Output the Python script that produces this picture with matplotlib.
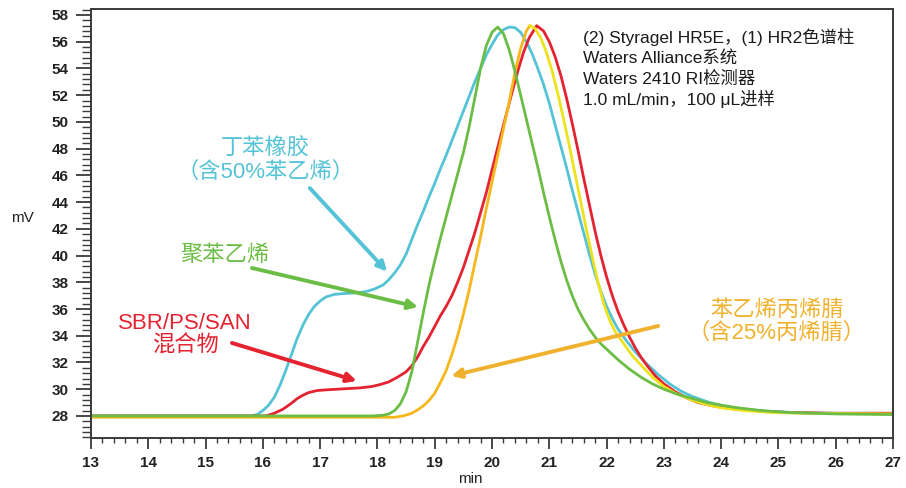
import matplotlib
matplotlib.use("Agg")

import matplotlib.pyplot as plt
from matplotlib.ticker import MultipleLocator

plt.rcParams["font.family"] = ["Liberation Sans", "Noto Sans CJK SC", "DejaVu Sans"]

# elution time (min) / detector signal (mV)
cyan_x = [13.0, 15.8, 15.9, 16.0, 16.1, 16.2, 16.3, 16.4, 16.5, 16.6, 16.7, 16.8,
          16.9, 17.0, 17.1, 17.25, 17.4, 17.6, 17.8, 17.95, 18.1, 18.2, 18.3, 18.4,
          18.5, 18.6, 18.7, 18.8, 18.9, 19.0, 19.1, 19.2, 19.3, 19.4, 19.5, 19.6,
          19.7, 19.8, 19.9, 20.0, 20.1, 20.2, 20.3, 20.4, 20.5, 20.6, 20.7, 20.8,
          20.9, 21.0, 21.1, 21.2, 21.3, 21.4, 21.5, 21.6, 21.7, 21.8, 21.9, 22.0,
          22.1, 22.2, 22.35, 22.5, 22.7, 22.9, 23.1, 23.3, 23.5, 23.8, 24.1, 24.4,
          24.8, 25.3, 26.0, 27.0]
cyan_y = [28.0, 28.0, 28.1, 28.4, 28.8, 29.4, 30.3, 31.4, 32.6, 33.8, 34.8, 35.6,
          36.2, 36.6, 36.9, 37.1, 37.15, 37.2, 37.3, 37.5, 37.8, 38.2, 38.7, 39.3,
          40.1, 41.2, 42.3, 43.3, 44.4, 45.4, 46.5, 47.5, 48.6, 49.7, 50.8, 51.9,
          53.0, 54.0, 55.0, 55.8, 56.5, 56.9, 57.1, 57.05, 56.7, 56.0, 55.1, 54.0,
          52.8, 51.4, 49.8, 48.2, 46.6, 44.9, 43.3, 41.7, 40.1, 38.6, 37.3, 36.2,
          35.3, 34.5, 33.6, 32.8, 31.9, 31.1, 30.4, 29.85, 29.45, 29.0, 28.7, 28.5,
          28.35, 28.25, 28.2, 28.2]

green_x = [13.0, 17.9, 18.1, 18.2, 18.3, 18.4, 18.5, 18.6, 18.7, 18.8, 18.9, 19.0,
           19.1, 19.2, 19.3, 19.4, 19.5, 19.6, 19.7, 19.8, 19.9, 20.0, 20.1, 20.2,
           20.3, 20.4, 20.5, 20.6, 20.7, 20.8, 20.9, 21.0, 21.1, 21.2, 21.3, 21.4,
           21.5, 21.6, 21.7, 21.8, 21.9, 22.0, 22.2, 22.4, 22.6, 22.8, 23.0, 23.25,
           23.5, 23.75, 24.0, 24.3, 24.7, 25.2, 26.0, 27.0]
green_y = [28.0, 28.0, 28.05, 28.15, 28.4, 28.9, 29.8, 31.3, 33.5, 35.7, 37.8, 39.6,
           41.3, 42.9, 44.5, 46.1, 47.7, 49.6, 51.8, 54.0, 55.7, 56.7, 57.1, 56.6,
           55.4, 53.8, 52.0, 50.2, 48.4, 46.6, 44.7, 42.9, 41.2, 39.6, 38.2, 37.0,
           36.0, 35.2, 34.5, 33.9, 33.4, 33.0, 32.2, 31.5, 30.9, 30.4, 30.0, 29.6,
           29.3, 29.0, 28.8, 28.6, 28.4, 28.25, 28.15, 28.1]

red_x = [13.0, 16.05, 16.2, 16.35, 16.5, 16.6, 16.7, 16.8, 16.95, 17.1, 17.3, 17.5,
         17.7, 17.9, 18.05, 18.2, 18.35, 18.5, 18.6, 18.7, 18.8, 18.9, 19.0, 19.1,
         19.2, 19.3, 19.4, 19.5, 19.7, 19.9, 20.1, 20.3, 20.45, 20.55, 20.65, 20.78,
         20.9, 21.0, 21.1, 21.2, 21.3, 21.4, 21.5, 21.6, 21.7, 21.8, 21.9, 22.0,
         22.1, 22.2, 22.3, 22.4, 22.5, 22.6, 22.7, 22.85, 23.0, 23.2, 23.4, 23.6,
         23.8, 24.0, 24.3, 24.7, 25.2, 26.0, 27.0]
red_y = [28.0, 28.0, 28.2, 28.5, 28.95, 29.3, 29.55, 29.75, 29.9, 29.95, 30.0, 30.05,
         30.1, 30.2, 30.35, 30.55, 30.9, 31.3, 31.75, 32.4, 33.2, 33.9, 34.7, 35.5,
         36.2, 37.0, 38.0, 39.1, 41.7, 44.7, 48.1, 51.4, 53.8, 55.2, 56.3, 57.2,
         56.8, 56.0, 54.9, 53.5, 51.8, 49.9, 47.9, 45.8, 43.8, 41.8, 40.0, 38.4,
         37.0, 35.8, 34.8, 33.9, 33.1, 32.4, 31.8, 31.0, 30.4, 29.8, 29.35, 29.0,
         28.8, 28.65, 28.5, 28.35, 28.25, 28.2, 28.2]

# SAN trace: rising side is drawn orange, falling side bright yellow
san_rise_x = [13.0, 18.3, 18.45, 18.6, 18.7, 18.8, 18.9, 19.0, 19.1, 19.2, 19.3,
              19.4, 19.5, 19.6, 19.7, 19.8, 19.9, 20.0, 20.1, 20.2, 20.3, 20.4,
              20.5, 20.6, 20.66]
san_rise_y = [27.9, 27.9, 28.0, 28.2, 28.45, 28.75, 29.15, 29.7, 30.5, 31.4, 32.6,
              34.0, 35.6, 37.4, 39.4, 41.4, 43.5, 45.5, 47.5, 49.5, 51.5, 53.7,
              55.5, 56.8, 57.2]
san_fall_x = [20.66, 20.75, 20.85, 20.95, 21.05, 21.15, 21.25, 21.35, 21.45, 21.55,
              21.65, 21.75, 21.85, 21.95, 22.05, 22.15, 22.3, 22.45, 22.6, 22.8,
              23.0, 23.2, 23.45, 23.7, 24.0, 24.4, 24.9, 25.5, 27.0]
san_fall_y = [57.2, 57.0, 56.3, 55.2, 53.8, 52.1, 50.2, 48.2, 46.1, 44.0,
              41.9, 39.9, 38.0, 36.4, 35.2, 34.3, 33.4, 32.5, 31.8, 30.9,
              30.2, 29.7, 29.25, 28.9, 28.6, 28.4, 28.25, 28.2, 28.15]

info_lines = ["(2) Styragel HR5E，(1) HR2色谱柱", "Waters Alliance系统",
              "Waters 2410 RI检测器", "1.0 mL/min，100 μL进样"]

CYAN = "#55c3d6"
GREEN = "#6cbd45"
RED = "#e52330"
ORANGE = "#f6b71c"
YELLOW = "#eee21c"

fig = plt.figure(figsize=(9.06, 4.88), dpi=100)
ax = fig.add_axes([0.1004, 0.1025, 0.8853, 0.8791])

lw = 2.0
ax.plot(cyan_x, cyan_y, color=CYAN, lw=lw)
ax.plot(red_x, red_y, color=RED, lw=lw)
ax.plot(san_rise_x, san_rise_y, color=ORANGE, lw=lw)
ax.plot(san_fall_x, san_fall_y, color=YELLOW, lw=lw)
ax.plot(green_x, green_y, color=GREEN, lw=lw)

ax.set_xlim(13, 27)
ax.set_ylim(26.35, 58.45)

ax.xaxis.set_major_locator(MultipleLocator(1))
ax.xaxis.set_minor_locator(MultipleLocator(0.2))
ax.yaxis.set_major_locator(MultipleLocator(2))
ax.yaxis.set_minor_locator(MultipleLocator(0.4))

for s in ax.spines.values():
    s.set_color("#3a3a3a")
    s.set_linewidth(1.4)

ax.tick_params(axis="both", which="both", direction="out", color="#3a3a3a")
ax.tick_params(axis="both", which="major", width=1.3, labelsize=11)
ax.tick_params(axis="both", which="minor", width=1.0)
ax.tick_params(axis="y", which="major", length=10.5, pad=5.5)
ax.tick_params(axis="y", which="minor", length=6.5)
ax.tick_params(axis="x", which="major", length=8, pad=5)
ax.tick_params(axis="x", which="minor", length=3.5)
for lab in ax.get_xticklabels() + ax.get_yticklabels():
    lab.set_fontweight("bold")
    lab.set_color("#222222")

fig.text(22 / 906, 1 - 218 / 488, "mV", fontsize=11, ha="center", va="center",
         color="#222222")
fig.text(470 / 906, 1 - 479 / 488, "min", fontsize=11, ha="center", va="center",
         color="#222222")

for i, line in enumerate(info_lines):
    ax.text(21.59, 56.35 - i * 1.55, line, fontsize=12.5, ha="left", va="center",
            color="#1a1a1a")


def label(text, xy, color, start, tip):
    ax.text(xy[0], xy[1], text, fontsize=16, ha="center", va="center",
            color=color, linespacing=1.1)
    ax.annotate("", xy=tip, xytext=start,
                arrowprops=dict(arrowstyle="-|>", color=color, lw=2.8,
                                mutation_scale=14, shrinkA=0, shrinkB=0))


label("丁苯橡胶\n（含50%苯乙烯）", (16.04, 47.1), CYAN, (16.82, 45.05), (18.17, 38.8))
label("聚苯乙烯", (15.34, 40.0), GREEN, (15.81, 39.07), (18.71, 36.15))
label("SBR/PS/SAN\n混合物", (14.64, 34.06), RED, (15.46, 33.46), (17.64, 30.62))
label("苯乙烯丙烯腈\n（含25%丙烯腈）", (24.97, 35.03), "#f0b12e", (22.90, 34.73), (19.29, 30.99))

fig.savefig("out.png", dpi=100)
